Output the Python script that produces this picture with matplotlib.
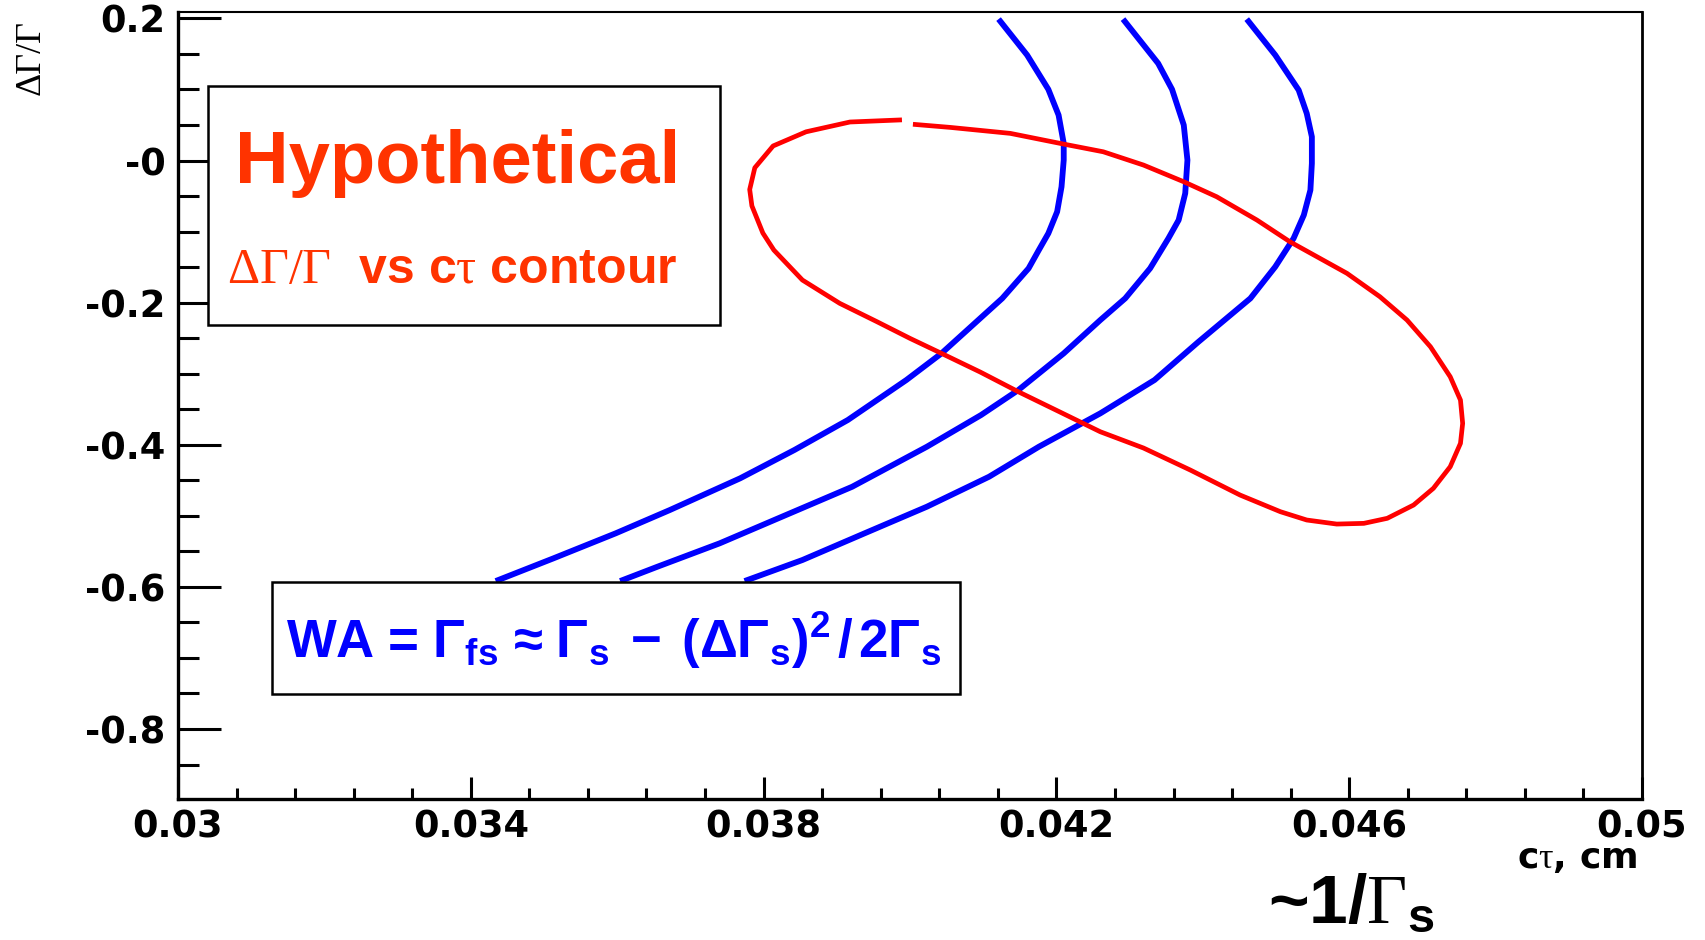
import matplotlib
matplotlib.use('Agg')
import matplotlib.pyplot as plt
from matplotlib.patches import Rectangle
from matplotlib.ticker import FixedLocator, MultipleLocator
import numpy as np

# mathtext: rm -> Times-like (greek), bf -> Helvetica-like bold
plt.rcParams['mathtext.fontset'] = 'custom'
plt.rcParams['mathtext.rm'] = 'Liberation Serif'
plt.rcParams['mathtext.it'] = 'Liberation Serif:italic'
plt.rcParams['mathtext.bf'] = 'Liberation Sans:bold'
plt.rcParams['mathtext.sf'] = 'Liberation Sans:bold'

# ---- data ----
# three blue curves (ct, dG/G), top to bottom
blue1_x = [0.04121, 0.04160, 0.04189, 0.04203, 0.04210, 0.04210, 0.04207, 0.04201, 0.04189,
           0.04176, 0.04162, 0.04126, 0.04043, 0.03995, 0.03915, 0.03842, 0.03768, 0.03672,
           0.03598, 0.03513, 0.03434]
blue1_y = [0.199, 0.1484, 0.1001, 0.0639, 0.0241, 0.0006, -0.0370, -0.0721, -0.1025,
           -0.1260, -0.1518, -0.1940, -0.2714, -0.3089, -0.3652, -0.4074, -0.4472, -0.4918,
           -0.5246, -0.5598, -0.5918]

blue2_x = [0.04291, 0.04339, 0.04358, 0.04374, 0.04379, 0.04376, 0.04367, 0.04353, 0.04328,
           0.04294, 0.04260, 0.04210, 0.04148, 0.04097, 0.04023, 0.03921, 0.03825, 0.03740,
           0.03655, 0.03604]
blue2_y = [0.199, 0.1367, 0.1001, 0.0499, 0.0006, -0.0462, -0.0838, -0.1096, -0.1518,
           -0.1940, -0.2245, -0.2714, -0.3230, -0.3582, -0.4028, -0.4591, -0.5013, -0.5387,
           -0.5716, -0.5918]

blue3_x = [0.04460, 0.04499, 0.04531, 0.04542, 0.04549, 0.04549, 0.04547, 0.04538, 0.04524,
           0.04499, 0.04465, 0.04394, 0.04334, 0.04260, 0.04176, 0.04108, 0.04023, 0.03938,
           0.03853, 0.03774]
blue3_y = [0.199, 0.1484, 0.0991, 0.0663, 0.0334, -0.0040, -0.0416, -0.0768, -0.1096,
           -0.1495, -0.1940, -0.2552, -0.3089, -0.3558, -0.4028, -0.4450, -0.4872, -0.5246,
           -0.5622, -0.5918]

# red contour (open at the top)
red_x = [0.04004, 0.04055, 0.04137, 0.04210, 0.04264, 0.04319, 0.04374, 0.04419, 0.04474,
         0.04519, 0.04597, 0.04642, 0.04679, 0.04711, 0.04738, 0.04752, 0.04755, 0.04752,
         0.04738, 0.04715, 0.04688, 0.04652, 0.04620, 0.04583, 0.04542, 0.04506, 0.04451,
         0.04383, 0.04319, 0.04260, 0.04205, 0.04148, 0.04096, 0.04043, 0.04000, 0.03955,
         0.03904, 0.03853, 0.03814, 0.03799, 0.03784, 0.03781, 0.03788, 0.03813, 0.03858,
         0.03918, 0.03989]
red_y = [0.0510, 0.0466, 0.0382, 0.0231, 0.0123, -0.0064, -0.0299, -0.0510, -0.0838,
         -0.1143, -0.1588, -0.1917, -0.2245, -0.2621, -0.3043, -0.3371, -0.3699, -0.3980,
         -0.4309, -0.4613, -0.4848, -0.5035, -0.5106, -0.5116, -0.5059, -0.4942, -0.4708,
         -0.4356, -0.4046, -0.3817, -0.3540, -0.3254, -0.2977, -0.2714, -0.2503, -0.2269,
         -0.2010, -0.1682, -0.1260, -0.1021, -0.0638, -0.0408, -0.0102, 0.0205, 0.0404,
         0.0542, 0.0572]

x_major = [0.03, 0.034, 0.038, 0.042, 0.046, 0.05]
x_labels = ['0.03', '0.034', '0.038', '0.042', '0.046', '0.05']
y_major = [0.2, 0.0, -0.2, -0.4, -0.6, -0.8]
y_labels = ['0.2', '-0', '-0.2', '-0.4', '-0.6', '-0.8']

W, H = 1706, 940
fig = plt.figure(figsize=(W / 100, H / 100), dpi=100)
ax = fig.add_axes([178 / W, 1 - 799 / H, (1642 - 178) / W, (799 - 12) / H])

for bx, by in [(blue1_x, blue1_y), (blue2_x, blue2_y), (blue3_x, blue3_y)]:
    ax.plot(bx, by, color='#0000ff', lw=4.2, solid_capstyle='butt', solid_joinstyle='round')
ax.plot(red_x, red_y, color='#ff0000', lw=3.4, solid_capstyle='butt', solid_joinstyle='round')

ax.set_xlim(0.03, 0.05)
ax.set_ylim(-0.8985, 0.209)

ax.xaxis.set_major_locator(FixedLocator(x_major))
ax.xaxis.set_minor_locator(FixedLocator(np.arange(0.03, 0.0501, 0.0008)))
ax.yaxis.set_major_locator(FixedLocator(y_major))
ax.yaxis.set_minor_locator(MultipleLocator(0.05))
ax.set_xticklabels(x_labels, fontsize=26.5, fontweight='bold', fontfamily='DejaVu Sans')
ax.set_yticklabels(y_labels, fontsize=26.5, fontweight='bold', fontfamily='DejaVu Sans')

ax.tick_params(axis='both', which='both', direction='in', top=False, right=False, width=2.2)
ax.tick_params(axis='y', which='major', length=31, pad=9)
ax.tick_params(axis='y', which='minor', length=15)
ax.tick_params(axis='x', which='major', length=16, pad=7)
ax.tick_params(axis='x', which='minor', length=8)

ax.spines['left'].set_linewidth(2.4)
ax.spines['bottom'].set_linewidth(2.4)
ax.spines['top'].set_linewidth(1.5)
ax.spines['right'].set_linewidth(2.0)

# text boxes (figure pixel coords -> fractions)
def box(x0, y0, x1, y1):
    r = Rectangle((x0 / W, 1 - y1 / H), (x1 - x0) / W, (y1 - y0) / H,
                  transform=fig.transFigure, facecolor='white', edgecolor='black',
                  lw=1.8, zorder=5)
    fig.add_artist(r)

box(208, 86, 720, 325)
box(272, 582, 960, 694)

fig.text(235 / W, 1 - 183 / H, 'Hypothetical', fontsize=53.5, fontweight='bold',
         fontfamily='Liberation Sans', color='#ff3300', va='baseline', zorder=6)
fig.text(227 / W, 1 - 283 / H, r'$\mathrm{\Delta\Gamma/\Gamma}$  vs c$\mathrm{\tau}$ contour',
         fontsize=36, fontweight='bold', fontfamily='Liberation Sans', color='#ff3300',
         va='baseline', zorder=6)

fig.text(286 / W, 1 - 658 / H,
         r'$\mathbf{WA\,=\,\Gamma_{fs}\,\approx\,\Gamma_{s}\ -\ (\Delta\Gamma_{s})^{2}\,/\,2\Gamma_{s}}$',
         fontsize=38, color='#0000ff', va='baseline', zorder=6)

# axis titles
fig.text(31 / W, 1 - 20 / H, 'ΔΓ/Γ', fontsize=26, fontfamily='Liberation Serif',
         rotation=90, ha='center', va='top')
fig.text(1637 / W, 1 - 868 / H, r'c$\mathrm{\tau}$, cm', fontsize=26, fontweight='bold',
         fontfamily='DejaVu Sans', ha='right', va='baseline')
fig.text(1268 / W, 1 - 922 / H, r'~1/$\mathrm{\Gamma}_{\mathbf{s}}$', fontsize=50,
         fontweight='bold', fontfamily='Liberation Sans', va='baseline')

fig.savefig('out.png', dpi=100)
